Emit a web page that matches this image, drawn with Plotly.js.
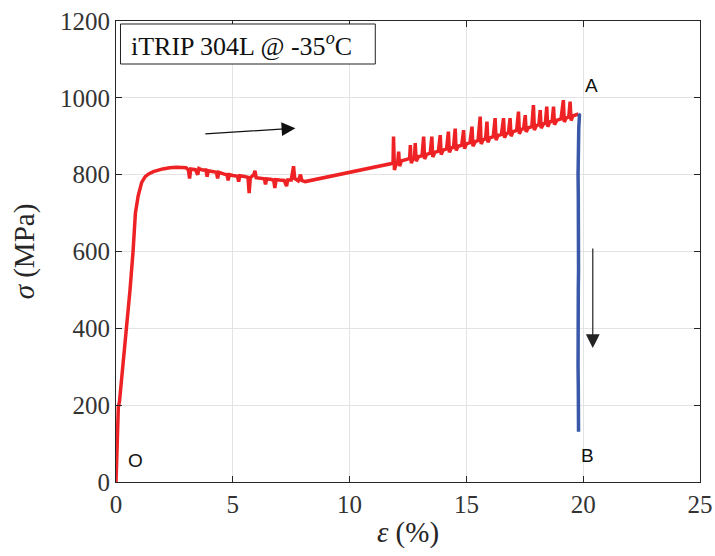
<!DOCTYPE html>
<html>
<head>
<meta charset="utf-8">
<script src="https://cdn.plot.ly/plotly-3.0.1.min.js"></script>
<style>html,body{margin:0;padding:0;background:#fff;}#chart{width:715px;height:556px;}</style>
</head>
<body>
<div id="chart"></div>
<script>
// Loading segment (O -> A), strain in %, stress in MPa
const loadStrain = [
  0, 0.03, 0.06, 0.1, 0.15, 0.2, 0.3, 0.45, 0.6, 0.73, 0.83, 0.95, 1.1, 1.25, 1.4, 1.6, 1.8, 2.0, 2.3, 2.6, 3.0,
  3.1, 3.15, 3.2, 3.4, 3.5, 3.55, 3.7, 3.85, 3.9, 3.95, 4.1, 4.3, 4.35, 4.4, 4.6, 4.75, 4.8, 4.85, 5.0, 5.2, 5.25, 5.3,
  5.5, 5.65, 5.7, 5.75, 5.9, 5.95, 6.0, 6.2, 6.35, 6.4, 6.45, 6.6, 6.75, 6.8, 6.85, 7.0, 7.2, 7.3, 7.35, 7.5, 7.6, 7.65,
  7.8, 7.9, 7.95, 8.1,
  8.5, 9.0, 9.5, 10.0, 10.5, 11.0, 11.5, 11.8,
  11.86, 11.88, 11.92, 11.98, 12.06, 12.10, 12.14, 12.22, 12.35, 12.5, 12.57, 12.60, 12.64, 12.72, 12.78, 12.81, 12.85,
  12.95, 13.1, 13.17, 13.21, 13.3, 13.45, 13.52, 13.56, 13.65, 13.8, 13.88, 13.92, 14.0, 14.15, 14.23, 14.27, 14.35,
  14.45, 14.52, 14.56, 14.65, 14.8, 14.88, 14.92, 15.0, 15.15, 15.24, 15.28, 15.38, 15.5, 15.59, 15.63, 15.72, 15.82,
  15.88, 15.92, 16.0, 16.15, 16.23, 16.27, 16.35, 16.5, 16.59, 16.63, 16.72, 16.8, 16.87, 16.91, 17.0, 17.15, 17.23,
  17.27, 17.35, 17.45, 17.52, 17.56, 17.65, 17.8, 17.87, 17.91, 18.0, 18.1, 18.16, 18.2, 18.3, 18.38, 18.44, 18.48,
  18.57, 18.67, 18.73, 18.77, 18.88, 19.05, 19.15, 19.19, 19.28, 19.38, 19.44, 19.48, 19.56, 19.68, 19.80
];
const loadStress = [
  0, 80, 150, 195, 210, 240, 320, 400, 500, 600, 700, 745, 780, 795, 802, 808, 812, 815, 818, 819, 818,
  812, 790, 815, 813, 800, 816, 812, 812, 795, 810, 808, 806, 790, 806, 802, 800, 785, 800, 798, 796, 782, 797,
  795, 793, 752, 792, 800, 810, 792, 790, 789, 775, 789, 788, 786, 765, 787, 786, 785, 770, 786, 786, 822, 790,
  784, 800, 785, 782,
  787, 793, 799, 805, 812, 818, 825, 829,
  832, 899, 812, 826, 833, 860, 822, 836, 838, 840, 842, 877, 830, 843, 845, 882, 835,
  847, 849, 899, 841, 853, 856, 899, 846, 858, 861, 903, 852, 864, 867, 912, 858, 869,
  872, 920, 863, 874, 877, 916, 868, 880, 883, 925, 874, 886, 889, 951, 880, 891, 893,
  938, 884, 896, 899, 947, 890, 902, 905, 947, 896, 907, 909, 947, 900, 912, 915, 964,
  906, 918, 920, 955, 911, 922, 925, 981, 916, 928, 930, 968, 921, 932, 934, 977, 925,
  937, 939, 977, 930, 942, 945, 994, 937, 948, 950, 990, 941, 953, 955, 958
];
// Unloading segment (A -> B)
const unloadStrain = [19.80, 19.84, 19.81, 19.79, 19.80, 19.78, 19.79, 19.80, 19.78, 19.79, 19.80, 19.79, 19.78, 19.80, 19.79, 19.78, 19.79, 19.80, 19.79, 19.80];
const unloadStress = [958, 955, 920, 880, 840, 800, 750, 700, 650, 600, 550, 500, 450, 400, 350, 300, 250, 200, 150, 131];

const xTicks = [0, 5, 10, 15, 20, 25];
const yTicks = [0, 200, 400, 600, 800, 1000, 1200];
const pointLabels = ["A", "B", "O"];
const pointLabelX = [20.34, 20.19, 0.83];
const pointLabelY = [1033, 70, 57];
const boxText = "iTRIP 304L @ -35<sup><i>o</i></sup>C";

const axisColor = "#262626";
const serif = "Liberation Serif";
const sans = "Liberation Sans";

const traces = [
  {x: loadStrain, y: loadStress, mode: "lines", line: {color: "#ee2224", width: 3.5}, hoverinfo: "skip"},
  {x: unloadStrain, y: unloadStress, mode: "lines", line: {color: "#3a58a8", width: 3.5}, hoverinfo: "skip"}
];

const annotations = pointLabels.map((t, i) => ({
  x: pointLabelX[i], y: pointLabelY[i], xref: "x", yref: "y", text: t, showarrow: false,
  font: {family: sans, size: 19, color: "#111"}
}));
annotations.push({
  x: 7.68, y: 921, ax: 3.76, ay: 906, xref: "x", yref: "y", axref: "x", ayref: "y",
  text: "", showarrow: true, arrowhead: 2, arrowsize: 2.3, arrowwidth: 1.2, arrowcolor: "#111"
});
annotations.push({
  x: 20.41, y: 349, ax: 20.41, ay: 612, xref: "x", yref: "y", axref: "x", ayref: "y",
  text: "", showarrow: true, arrowhead: 2, arrowsize: 2.3, arrowwidth: 1.2, arrowcolor: "#222"
});
annotations.push({
  x: 0.0231, y: 0.950, xref: "paper", yref: "paper", xanchor: "left", yanchor: "middle",
  text: boxText, showarrow: false, font: {family: serif, size: 26, color: "#111"}
});

const layout = {
  width: 715, height: 556,
  margin: {l: 115.5, r: 15, t: 21, b: 74},
  paper_bgcolor: "#fff", plot_bgcolor: "#fff",
  showlegend: false,
  font: {family: serif, color: axisColor},
  xaxis: {
    range: [0, 25], tickvals: xTicks, ticktext: xTicks.map(String),
    showgrid: true, gridcolor: "#e3e3e3", gridwidth: 1, zeroline: false,
    showline: true, linecolor: axisColor, linewidth: 1, mirror: "ticks",
    ticks: "inside", ticklen: 6, tickcolor: axisColor,
    tickfont: {family: serif, size: 25, color: "#333"},
    title: {text: "<i>ε</i> (%)", font: {family: serif, size: 29, color: axisColor}, standoff: 4}
  },
  yaxis: {
    range: [0, 1200], tickvals: yTicks, ticktext: yTicks.map(String),
    showgrid: true, gridcolor: "#e3e3e3", gridwidth: 1, zeroline: false,
    showline: true, linecolor: axisColor, linewidth: 1, mirror: "ticks",
    ticks: "inside", ticklen: 6, tickcolor: axisColor,
    tickfont: {family: serif, size: 25, color: "#333"},
    title: {text: "<i>σ</i> (MPa)", font: {family: serif, size: 29, color: axisColor}, standoff: 16}
  },
  shapes: [{
    type: "rect", xref: "paper", yref: "paper",
    x0: 0.0077, x1: 0.444, y0: 0.9067, y1: 0.9935,
    line: {color: "#222", width: 1}, fillcolor: "#fff", layer: "above"
  }],
  annotations: annotations
};

Plotly.newPlot("chart", traces, layout, {staticPlot: true, displayModeBar: false});
</script>
</body>
</html>
